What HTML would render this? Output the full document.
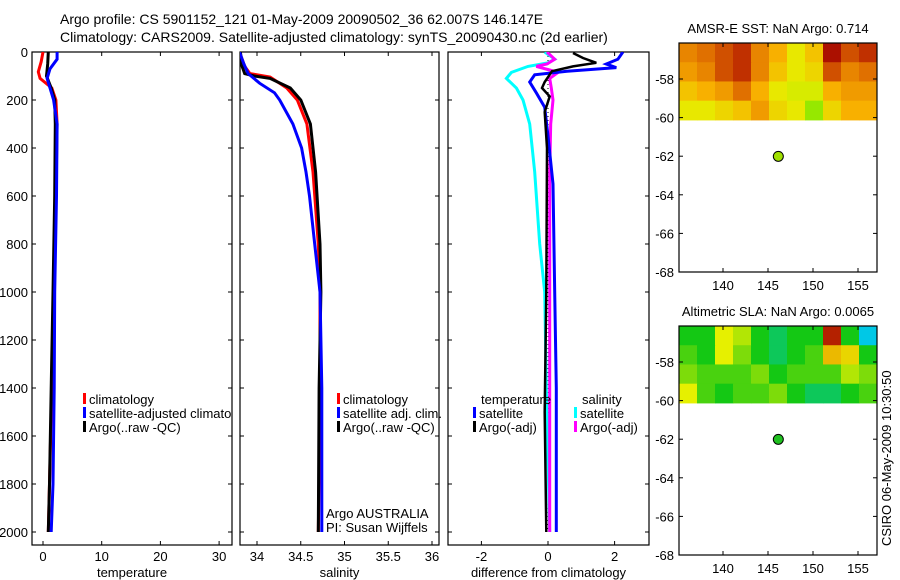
<!DOCTYPE html>
<html><head><meta charset="utf-8"><style>
body{margin:0;background:#fff;}
svg{display:block;font-family:"Liberation Sans",sans-serif;}
</style></head><body>
<svg id="c" width="900" height="580">
<defs>
<clipPath id="clip1"><rect x="32" y="52" width="200" height="493"/></clipPath>
<clipPath id="clip2"><rect x="240" y="52" width="199" height="493"/></clipPath>
<clipPath id="clip3"><rect x="448" y="52" width="201" height="493"/></clipPath>
</defs>
</svg>
<script>
// ---- data ----
const depthTicks=[0,200,400,600,800,1000,1200,1400,1600,1800,2000];
const tempTicks=[0,10,20,30];
const salTicks=[34,34.5,35,35.5,36];
const diffTicks=[-2,0,2];
const lonTicks=[140,145,150,155];
const latTicks=[-58,-60,-62,-64,-66,-68];
const tClimD=[0,40,83,110,150,200,300,600,1000,1400,1800,2000];
const tClimV=[0,-0.3,-0.8,-0.5,1.5,2.2,2.4,2.2,1.9,1.5,1.1,0.9];
const tArgoD=[0,50,100,150,200,300,600,1000,1400,1800,2000];
const tArgoV=[0.9,0.8,0.6,1.4,2.0,2.1,2.0,1.7,1.4,1.1,0.9];
const tSatD=[0,30,70,110,150,200,300,600,1000,1400,1800,2000];
const tSatV=[2.4,2.4,1.2,0.7,1.2,1.8,2.4,2.3,2.0,1.9,1.7,1.4];
const sClimD=[0,60,90,104,150,200,300,500,800,1000,1500,2000];
const sClimV=[33.8,33.86,33.92,34.15,34.34,34.46,34.57,34.64,34.70,34.72,34.72,34.70];
const sArgoD=[0,60,90,100,110,150,200,300,500,800,1000,1400,2000];
const sArgoV=[33.81,33.83,33.86,33.97,34.15,34.38,34.5,34.61,34.67,34.72,34.73,34.71,34.70];
const sSatD=[0,50,90,130,170,200,300,400,500,600,800,1000,1400,2000];
const sSatV=[33.8,33.85,33.9,34.03,34.2,34.26,34.41,34.51,34.56,34.6,34.66,34.72,34.74,34.74];
const dTArgoD=[4,25,45,60,80,125,150,185,250,400,1000,1500,2000];
const dTArgoV=[0.75,1.05,1.45,0.75,0.12,-0.1,-0.18,0.05,-0.1,-0.03,-0.05,-0.1,-0.05];
const dTSatD=[0,30,50,65,80,95,125,170,230,350,550,1000,1400,2000];
const dTSatV=[2.25,2.1,1.75,2.05,0.57,-0.4,-0.55,-0.35,-0.1,0,0.15,0.2,0.25,0.25];
const dSSatD=[0,30,45,60,85,110,150,200,300,500,800,1000,1400,2000];
const dSSatV=[-0.1,0.2,0,-0.6,-1.1,-1.25,-0.95,-0.75,-0.55,-0.4,-0.25,-0.1,-0.05,0.05];
const dSArgoD=[0,30,50,60,75,85,110,150,200,300,500,1000,2000];
const dSArgoV=[-0.03,0.2,-0.03,-0.35,0.05,0.3,0.05,0.1,0.15,0.08,0.05,0.05,0.05];
const sstGrid=[
 [0.7,0.75,0.8,0.85,0.7,0.6,0.45,0.55,0.95,0.8,0.85],
 [0.65,0.7,0.8,0.85,0.7,0.55,0.45,0.5,0.8,0.7,0.75],
 [0.55,0.6,0.65,0.75,0.6,0.45,0.4,0.4,0.6,0.65,0.65],
 [0.45,0.45,0.5,0.55,0.65,0.5,0.45,0.25,0.5,0.6,0.6]];
const slaGrid=[
 [0.4,0.4,0.6,0.55,0.4,0.35,0.4,0.4,0.95,0.4,0.25],
 [0.45,0.4,0.6,0.5,0.4,0.35,0.4,0.45,0.7,0.65,0.4],
 [0.5,0.45,0.45,0.45,0.5,0.4,0.45,0.45,0.45,0.55,0.5],
 [0.6,0.45,0.4,0.45,0.45,0.5,0.4,0.35,0.35,0.4,0.45]];
const argoLon=146.147, argoLat=-62.007;

const svg=document.getElementById('c');
const NS='http://www.w3.org/2000/svg';
function mk(tag,attrs,parent){const e=document.createElementNS(NS,tag);for(const k in attrs)e.setAttribute(k,attrs[k]);(parent||svg).appendChild(e);return e;}
function txt(x,y,s,anchor,size,name){const t=mk('text',{x:x,y:y,'font-size':size||13,'text-anchor':anchor||'start',fill:'#000'});t.textContent=s;

return t;}

const Y=d=>52+d*0.24;
function panel(x0,x1,xs,ticks,fmt,label,name,showY){
 const g=mk('g',{});
 
 
 mk('rect',{x:x0,y:52,width:x1-x0,height:493,fill:'none',stroke:'#000','stroke-width':1.2},g);
 ticks.forEach(v=>{const x=xs(v);mk('line',{x1:x,x2:x,y1:545,y2:541,stroke:'#000'},g);mk('line',{x1:x,x2:x,y1:52,y2:56,stroke:'#000'},g);
  const t=txt(x,561,fmt(v),'middle',13,'x-tick-label');g.appendChild(t);});
 depthTicks.forEach(d=>{const y=Y(d);mk('line',{x1:x0,x2:x0+4,y1:y,y2:y,stroke:'#000'},g);mk('line',{x1:x1,x2:x1-4,y1:y,y2:y,stroke:'#000'},g);
  if(showY){const t=txt(28,y+5,String(d),'end',13,'y-tick-label');g.appendChild(t);}});
 const l=txt((x0+x1)/2,577,label,'middle',13,'x-axis-title');g.appendChild(l);
 return g;}
function line(g,D,V,xs,col,name,w){const p=D.map((d,i)=>xs(V[i]).toFixed(1)+','+Y(d).toFixed(1)).join(' ');
 const e=mk('polyline',{points:p,fill:'none',stroke:col,'stroke-width':w||3,'stroke-linejoin':'miter'},g);
 
 }
function legendItem(g,x,y,col,s,name){mk('rect',{x:x,y:y-11,width:3,height:11,fill:col},g);const t=txt(x+6,y,s,'start',13,name);g.appendChild(t);}

// titles
txt(60,24,'Argo profile: CS 5901152_121 01-May-2009 20090502_36 62.007S 146.147E','start',14,'title-line-1');
txt(60,42,'Climatology: CARS2009. Satellite-adjusted climatology: synTS_20090430.nc (2d earlier)','start',14,'title-line-2');

// panel 1 temperature
const xT=v=>43+v*5.87;
const g1=panel(32,232,xT,tempTicks,String,'temperature','temperature-panel',true);
const c1=mk('g',{'clip-path':'url(#clip1)'},g1);
line(c1,tClimD,tClimV,xT,'#f00','temp-climatology-line');
line(c1,tArgoD,tArgoV,xT,'#000','temp-argo-line');
line(c1,tSatD,tSatV,xT,'#00f','temp-satellite-line');
legendItem(c1,83,404,'#f00','climatology','legend-climatology');
legendItem(c1,83,418,'#00f','satellite-adjusted climatology','legend-satellite');
legendItem(c1,83,432,'#000','Argo(..raw -QC)','legend-argo');

// panel 2 salinity
const xS=v=>257+(v-34)*87.5;
const g2=panel(240,439,xS,salTicks,String,'salinity','salinity-panel',false);
const c2=mk('g',{'clip-path':'url(#clip2)'},g2);
line(c2,sClimD,sClimV,xS,'#f00','sal-climatology-line');
line(c2,sArgoD,sArgoV,xS,'#000','sal-argo-line');
line(c2,sSatD,sSatV,xS,'#00f','sal-satellite-line');
legendItem(g2,337,404,'#f00','climatology','legend-climatology');
legendItem(g2,337,418,'#00f','satellite adj. clim.','legend-satellite');
legendItem(g2,337,432,'#000','Argo(..raw -QC)','legend-argo');
txt(326,518,'Argo AUSTRALIA','start',13,'credit-argo');
txt(326,532,'PI: Susan Wijffels','start',13,'credit-pi');

// panel 3 difference
const xD=v=>548+v*33.3;
const g3=panel(448,649,xD,diffTicks,String,'difference from climatology','difference-panel',false);
const c3=mk('g',{'clip-path':'url(#clip3)'},g3);
mk('line',{x1:548,x2:548,y1:52,y2:532,stroke:'#000','stroke-dasharray':'1,3','stroke-width':1},c3);
line(c3,dSSatD,dSSatV,xD,'#0ff','diff-sal-satellite-line');
line(c3,dSArgoD,dSArgoV,xD,'#f0f','diff-sal-argo-line');
line(c3,dTSatD,dTSatV,xD,'#00f','diff-temp-satellite-line');
line(c3,dTArgoD,dTArgoV,xD,'#000','diff-temp-argo-line',2.5);
txt(481,404,'temperature','start',13,'legend-temperature-header');
legendItem(g3,473,418,'#00f','satellite','legend-temp-satellite');
legendItem(g3,473,432,'#000','Argo(-adj)','legend-temp-argo');
txt(582,404,'salinity','start',13,'legend-salinity-header');
legendItem(g3,574,418,'#0ff','satellite','legend-sal-satellite');
legendItem(g3,574,432,'#f0f','Argo(-adj)','legend-sal-argo');

// maps
function lerpCol(stops,v){for(let i=1;i<stops.length;i++){if(v<=stops[i][0]){const a=stops[i-1],b=stops[i],t=(v-a[0])/(b[0]-a[0]);
 return 'rgb('+[0,1,2].map(k=>Math.round(a[1][k]+(b[1][k]-a[1][k])*t)).join(',')+')';}}const l=stops[stops.length-1][1];return 'rgb('+l.join(',')+')';}
const sstStops=[[0,[0,190,0]],[0.3,[180,240,0]],[0.45,[232,232,0]],[0.6,[248,176,0]],[0.75,[224,112,0]],[0.85,[192,48,0]],[1,[160,0,0]]];
const slaStops=[[0,[0,0,255]],[0.25,[0,200,230]],[0.4,[20,200,20]],[0.6,[230,240,0]],[0.8,[240,130,0]],[1,[160,0,0]]];
function map(top,grid,stops,title,dotCol,name){
 const x0=679,x1=877,bottom=top+229;
 const lonX=l=>723+(l-140)*9.0;
 const latY=a=>top+36+(-58-a)*19.3;
 const g=mk('g',{});
 
 
 const gb=latY(-60.12), rows=grid.length, cols=grid[0].length;
 const cw=(x1-x0)/cols, ch=(gb-top)/rows;
 grid.forEach((r,i)=>r.forEach((v,j)=>{const c=mk('rect',{x:x0+j*cw,y:top+i*ch,width:cw+0.5,height:ch+0.5,fill:lerpCol(stops,v)},g);
  
  }));
 mk('rect',{x:x0,y:top,width:x1-x0,height:bottom-top,fill:'none',stroke:'#000','stroke-width':1.2},g);
 lonTicks.forEach(l=>{const x=lonX(l);mk('line',{x1:x,x2:x,y1:bottom,y2:bottom-4,stroke:'#000'},g);mk('line',{x1:x,x2:x,y1:top,y2:top+4,stroke:'#000'},g);
  g.appendChild(txt(x,bottom+18,String(l),'middle',13,'lon-tick-label'));});
 latTicks.forEach(a=>{const y=latY(a);mk('line',{x1:x0,x2:x0+4,y1:y,y2:y,stroke:'#000'},g);mk('line',{x1:x1,x2:x1-4,y1:y,y2:y,stroke:'#000'},g);
  g.appendChild(txt(674,y+5,String(a),'end',13,'lat-tick-label'));});
 const d=mk('circle',{cx:lonX(argoLon),cy:latY(argoLat),r:5,fill:dotCol,stroke:'#000','stroke-width':1},g);
 
 
 g.appendChild(txt(778,top-10,title,'middle',13,'map-title'));
}
map(43,sstGrid,sstStops,'AMSR-E SST: NaN Argo: 0.714','#a0e000','sst-map');
map(326,slaGrid,slaStops,'Altimetric SLA: NaN Argo: 0.0065','#20c020','sla-map');

const ts=txt(0,0,'CSIRO 06-May-2009 10:30:50','start',13,'timestamp');
ts.setAttribute('transform','translate(891,546) rotate(-90)');
</script>
</body></html>
